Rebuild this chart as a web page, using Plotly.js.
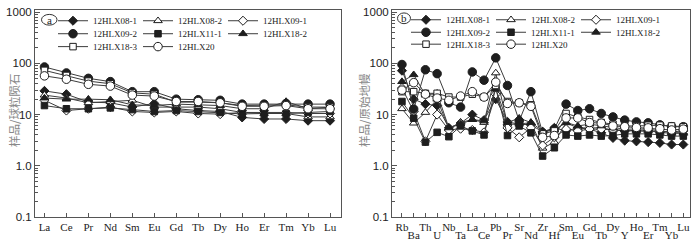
<!DOCTYPE html>
<html><head><meta charset="utf-8">
<script src="https://cdn.plot.ly/plotly-3.0.1.min.js"></script>
<style>html,body{margin:0;padding:0;background:#fff}#chart{width:700px;height:244px}</style>
</head><body><div id="chart"></div>
<script>
// ---------- data ----------
var samples = ['12HLX08-1','12HLX08-2','12HLX09-1','12HLX09-2','12HLX11-1','12HLX18-2','12HLX18-3','12HLX20'];

var reeCats = ['La','Ce','Pr','Nd','Sm','Eu','Gd','Tb','Dy','Ho','Er','Tm','Yb','Lu'];
var ree08_1 = [29, 25, 17.5, 17, 14, 16.5, 13, 12, 11.5, 8.8, 8.2, 8.2, 7.6, 7.6];
var ree08_2 = [24, 21, 17, 18, 19, 14, 14, 14, 13, 11, 10.5, 10.5, 9, 9];
var ree09_1 = [19, 12, 13, 14, 11.5, 11, 11.5, 10.5, 10.2, 11, 11, 11, 10.5, 10.5];
var ree09_2 = [85, 65, 51, 44, 28, 28, 20, 19.5, 19, 16, 16, 16.5, 16, 16];
var ree11_1 = [15, 13, 13, 13.5, 12.5, 11.5, 12, 11.5, 11, 10.3, 10.5, 10.5, 11, 11.5];
var ree18_2 = [21, 20, 20, 19.5, 15.5, 15, 16, 15.5, 15, 13, 13, 18, 13, 14];
var ree18_3 = [73, 58, 45, 40, 26.5, 25, 17.5, 17.5, 17, 15, 15, 15.5, 14, 14];
var ree20   = [57, 49, 39, 36, 24, 23, 18, 18, 17, 14.5, 14.5, 15, 13, 13];

var spCats = ['Rb','Ba','Th','U','Nb','Ta','La','Ce','Pb','Pr','Sr','Nd','Zr','Hf','Sm','Eu','Gd','Tb','Dy','Y','Ho','Er','Tm','Yb','Lu'];
var sp08_1 = [72, 20, 16, 15, 5.5, 6.8, 10, 7.8, 20, 7.2, 6.5, 6.3, 4.6, 5.5, 4.8, 5.5, 5.2, 4.4, 3.5, 3.1, 3.0, 2.9, 2.8, 2.6, 2.6];
var sp08_2 = [13, 6.8, 11, 20, 5.3, 7, 8, 7, 65, 6.5, 6.5, 7, 2.2, 2.9, 6.9, 5.5, 5.5, 5.5, 5, 5, 4.8, 4.8, 4.5, 4.3, 4.3];
var sp09_1 = [33, 11.5, 3.0, 10, 5, 5.3, 5, 4.5, 25, 5.5, 3.6, 5.5, 2.5, 3.6, 5.2, 4.8, 5.2, 5.2, 5, 4.8, 4.8, 4.8, 4.7, 4.6, 4.8];
var sp09_2 = [95, 12.8, 75, 63, 17, 14, 68, 47, 128, 37, 7.5, 28, 4.4, 5.2, 16, 12, 13, 10.5, 9, 7.8, 7.2, 6.9, 6.3, 5.8, 5.8];
var sp11_1 = [18, 8.5, 2.9, 4.5, 3.7, 6, 4.8, 4.0, 33, 3.9, 6, 4.4, 1.55, 2.25, 4, 3.8, 4, 3.8, 3.9, 4.2, 4.2, 4.2, 4, 3.8, 3.8];
var sp18_2 = [44, 60, 24, 26, 5.5, 6.5, 8, 7.5, 32, 7, 8.5, 7, 4.8, 5, 7, 6, 6.5, 6, 5.5, 5.2, 5.2, 5.2, 4.8, 4.5, 4.5];
var sp18_3 = [28, 28, 26, 26, 22, 22, 25, 22, 37, 18, 17, 15.5, 4.2, 4.8, 10.5, 9, 8, 7, 6.5, 6, 6, 6.2, 6.2, 6, 5.8];
var sp20   = [30, 42, 25, 21, 19, 23, 28, 22, 43, 16.5, 17, 14.5, 3.6, 3.9, 8.6, 8.6, 7, 6.8, 6, 5.8, 5.6, 5.5, 5.3, 5, 5.2];

var yTickVals = [0.1, 1, 10, 100, 1000];
var yTickText = ['0.1', '1.0', '10', '100', '1000'];

// ---------- styling ----------
var reeSeries = [ree08_1, ree08_2, ree09_1, ree09_2, ree11_1, ree18_2, ree18_3, ree20];
var spSeries  = [sp08_1, sp08_2, sp09_1, sp09_2, sp11_1, sp18_2, sp18_3, sp20];
var symStyle = [
  {s:'diamond', f:true, z:7},
  {s:'triangle-up', f:false, z:7.5},
  {s:'diamond', f:false, z:7},
  {s:'circle', f:true, z:8.5},
  {s:'square', f:true, z:6.5},
  {s:'triangle-up', f:true, z:7.5},
  {s:'square', f:false, z:6.5},
  {s:'circle', f:false, z:8.5}
];
var ink = '#1e1e1e';
var lineCol = '#3c3c3c';
var axCol = '#555';
var serif = 'Liberation Serif, Times New Roman, serif';
var sans = 'Liberation Sans, Arial, sans-serif';

var legL = ['legend','legend2','legend3'];
var legR = ['legend4','legend5','legend6'];

var traces = [];
function mk(i, xs, ys, xa, ya, leg) {
  var st = symStyle[i];
  return {
    type:'scatter', mode:'lines+markers', name:samples[i],
    x: xs, y: ys, xaxis: xa, yaxis: ya, legend: leg,
    line:{color:lineCol, width:1},
    marker:{symbol:st.s, size:st.z, color: st.f ? ink : '#ffffff', line:{color:ink, width:1}},
    hoverinfo:'x+y+name'
  };
}
for (var i = 0; i < samples.length; i++) {
  traces.push(mk(i, reeCats, reeSeries[i], 'x', 'y', legL[Math.floor(i/3)]));
}
for (var j = 0; j < samples.length; j++) {
  traces.push(mk(j, spCats, spSeries[j], 'x2', 'y2', legR[Math.floor(j/3)]));
}
// invisible carrier so the staggered-label overlay axis (x3) is created
traces.push({type:'scatter', mode:'markers', x: spCats.map(function(c, k){ return k; }), y: sp20,
  xaxis:'x3', yaxis:'y2', marker:{opacity:0}, showlegend:false, hoverinfo:'skip'});

// geometry helpers (pixel -> paper)
var L = 35, R = 10, T = 5, B = 27, W = 700, H = 244;
var pw = W - L - R, ph = H - T - B;
function px(x){ return (x - L) / pw; }
function py(y){ return 1 - (y - T) / ph; }

var evenIdx = [], evenTxt = [], oddIdx = [], oddTxt = [];
spCats.forEach(function(c, k){ if (k % 2 === 0) { evenIdx.push(c); evenTxt.push(c); } else { oddIdx.push(k); oddTxt.push(c); } });

function legendCfg(x, y) {
  return {orientation:'h', x:x, y:y, xanchor:'left', yanchor:'middle',
    entrywidth:40, entrywidthmode:'pixels', bgcolor:'rgba(0,0,0,0)', borderwidth:0,
    font:{family:serif, size:9, color:'#222'}, itemclick:false, itemdoubleclick:false};
}

var yBase = {
  type:'log', range:[-1, 3.042], showline:true, mirror:true, linecolor:axCol, linewidth:1,
  ticks:'inside', ticklen:5, tickcolor:axCol, tickmode:'array', tickvals:yTickVals, ticktext:yTickText,
  tickfont:{family:sans, size:11.5, color:'#222'}, showgrid:false, zeroline:false, fixedrange:true,
  minor:{ticks:'inside', ticklen:3, tickcolor:axCol, dtick:'D1', showgrid:false}
};
function clone(o){ return JSON.parse(JSON.stringify(o)); }
var y1 = clone(yBase); y1.anchor = 'x';
var y2 = clone(yBase); y2.anchor = 'x2';

var layout = {
  width:W, height:H, margin:{l:L, r:R, t:T, b:B}, paper_bgcolor:'#fff', plot_bgcolor:'#fff',
  showlegend:true,
  xaxis:{domain:[0, px(341)], anchor:'y', type:'category', categoryorder:'array', categoryarray:reeCats,
    range:[-0.43, 13.5], showline:true, mirror:true, linecolor:axCol, linewidth:1,
    ticks:'inside', ticklen:4, tickcolor:axCol, tickfont:{family:serif, size:11, color:'#222'},
    showgrid:false, zeroline:false, fixedrange:true},
  xaxis2:{domain:[px(392), 1], anchor:'y2', type:'category', categoryorder:'array', categoryarray:spCats,
    range:[-0.85, 24.57], showline:true, mirror:true, linecolor:axCol, linewidth:1,
    tickmode:'array', tickvals:evenIdx, ticktext:evenTxt,
    ticks:'inside', ticklen:4, tickcolor:axCol, tickfont:{family:serif, size:11, color:'#222'},
    showgrid:false, zeroline:false, fixedrange:true},
  xaxis3:{overlaying:'x2', anchor:'y2', side:'bottom', type:'linear', range:[-0.85, 24.57],
    tickmode:'array', tickvals:oddIdx, ticktext:oddTxt, ticklabelstandoff:10,
    ticks:'inside', ticklen:4, tickcolor:axCol, tickfont:{family:serif, size:11, color:'#222'},
    showline:false, showgrid:false, zeroline:false, fixedrange:true},
  yaxis:y1,
  yaxis2:y2,
  legend: legendCfg(px(53), py(16)),
  legend2: legendCfg(px(53), py(29.3)),
  legend3: legendCfg(px(53), py(42.5)),
  legend4: legendCfg(px(406), py(15)),
  legend5: legendCfg(px(406), py(27.8)),
  legend6: legendCfg(px(406), py(40)),
  shapes:[
    {type:'circle', xref:'paper', yref:'paper', x0:px(41.5), x1:px(57), y0:py(20.5), y1:py(9.5), line:{color:'#333', width:1}},
    {type:'circle', xref:'paper', yref:'paper', x0:px(397.5), x1:px(410.5), y0:py(19), y1:py(8), line:{color:'#333', width:1}}
  ],
  annotations:[
    {xref:'paper', yref:'paper', x:px(49.2), y:py(15), text:'a', showarrow:false, xanchor:'center', yanchor:'middle',
      font:{family:serif, size:11, color:'#222'}},
    {xref:'paper', yref:'paper', x:px(404), y:py(13.5), text:'b', showarrow:false, xanchor:'center', yanchor:'middle',
      font:{family:serif, size:11, color:'#222'}},
    {xref:'paper', yref:'paper', x:px(13.5), y:py(108), text:'样品/球粒陨石', showarrow:false, textangle:-90,
      xanchor:'center', yanchor:'middle', font:{family:'Noto Sans CJK SC, sans-serif', size:11.5, color:'#888'}},
    {xref:'paper', yref:'paper', x:px(363.5), y:py(108), text:'样品/原始地幔', showarrow:false, textangle:-90,
      xanchor:'center', yanchor:'middle', font:{family:'Noto Sans CJK SC, sans-serif', size:11.5, color:'#888'}}
  ]
};

Plotly.newPlot('chart', traces, layout, {displayModeBar:false, staticPlot:false, responsive:false});
</script>
</body></html>
